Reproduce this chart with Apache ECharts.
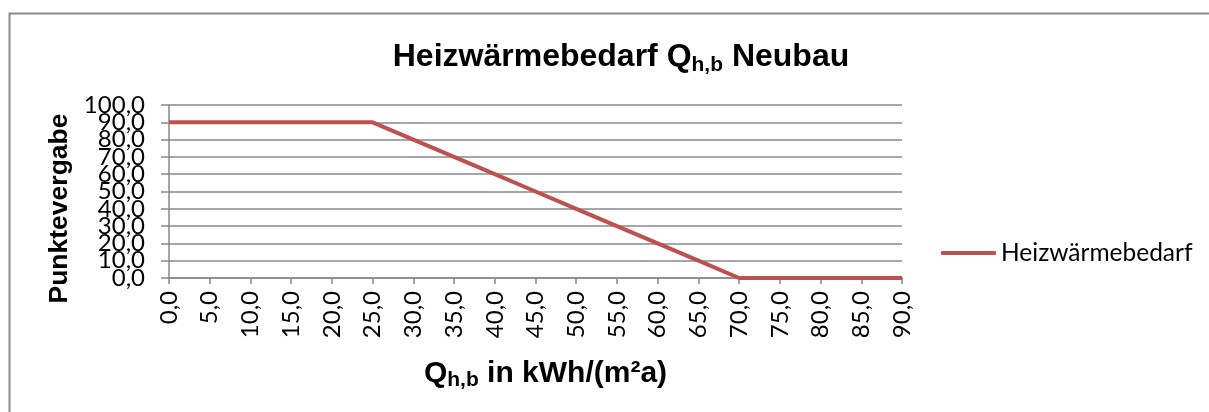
<!DOCTYPE html>
<html>
<head>
<meta charset="utf-8">
<script src="https://cdn.jsdelivr.net/npm/echarts@6/dist/echarts.min.js"></script>
<style>
html,body{margin:0;padding:0;background:#fff;}
#chart{width:1209px;height:412px;}
</style>
</head>
<body>
<div id="chart"></div>
<script>
const categories = [0, 5, 10, 15, 20, 25, 30, 35, 40, 45, 50, 55, 60, 65, 70, 75, 80, 85, 90];
const seriesName = 'Heizwärmebedarf';
const values = [90, 90, 90, 90, 90, 90, 80, 70, 60, 50, 40, 30, 20, 10, 0, 0, 0, 0, 0];
const yTicks = { min: 0, max: 100, interval: 10 };

const fmt = v => Number(v).toFixed(1).replace('.', ',');
const gray = '#898989';
const labelFont = 'Lato, "Open Sans", sans-serif';
const boldFont = '"Liberation Sans", Arial, sans-serif';

// two overlaid y axes: one labels even tens, the other odd tens (avoids auto-hiding of crowded labels)
const yLabelBase = {
  margin: 24, fontFamily: labelFont, fontSize: 24, color: '#000',
  showMinLabel: true, showMaxLabel: true
};

const chart = echarts.init(document.getElementById('chart'));
chart.setOption({
  animation: false,
  backgroundColor: '#fff',
  graphic: [{
    type: 'rect',
    shape: { x: 9.5, y: 13.5, width: 1300, height: 500 },
    style: { fill: 'none', stroke: '#8a8a8a', lineWidth: 2 },
    silent: true
  }],
  title: {
    text: 'Heizwärmebedarf Q{sub|h,b} Neubau',
    left: 616,
    textAlign: 'center',
    top: 33,
    textStyle: {
      fontFamily: boldFont, fontWeight: 'bold', fontSize: 32, color: '#000', lineHeight: 38,
      rich: { sub: { fontFamily: boldFont, fontWeight: 'bold', fontSize: 21, lineHeight: 22, verticalAlign: 'bottom', color: '#000' } }
    }
  },
  legend: {
    data: [{ name: seriesName, icon: 'roundRect' }],
    left: 936, top: 234,
    itemWidth: 55, itemHeight: 4,
    textStyle: { fontFamily: labelFont, fontSize: 24.5, color: '#000', lineHeight: 28 }
  },
  grid: { left: 169, right: 307, top: 105, bottom: 134, containLabel: false },
  xAxis: {
    type: 'category',
    data: categories,
    boundaryGap: false,
    name: '{main|Q}{sub|h,b}{main| in kWh/(m²a)}',
    nameLocation: 'middle',
    nameGap: 79,
    nameTextStyle: {
      padding: [0, 0, 0, 20],
      rich: {
        main: { fontFamily: boldFont, fontWeight: 'bold', fontSize: 30, lineHeight: 34, color: '#000' },
        sub: { fontFamily: boldFont, fontWeight: 'bold', fontSize: 21, lineHeight: 18, verticalAlign: 'bottom', color: '#000' }
      }
    },
    axisLine: { lineStyle: { color: gray, width: 1.5 } },
    axisTick: { show: true, length: 6, lineStyle: { color: gray, width: 1.5 } },
    axisLabel: {
      rotate: 90, margin: 13, interval: 0,
      fontFamily: labelFont, fontSize: 24, color: '#000',
      formatter: v => fmt(v)
    },
    splitLine: { show: false }
  },
  yAxis: [{
    type: 'value',
    min: yTicks.min, max: yTicks.max, interval: yTicks.interval,
    position: 'left',
    name: 'Punktevergabe',
    nameLocation: 'middle',
    nameGap: 94,
    nameTextStyle: { fontFamily: boldFont, fontWeight: 'bold', fontSize: 26.5, color: '#000', padding: [0, 34, 0, 0] },
    axisLine: { show: true, lineStyle: { color: gray, width: 1.5 } },
    axisTick: { show: true, length: 8, lineStyle: { color: gray, width: 1.5 } },
    axisLabel: Object.assign({}, yLabelBase, {
      formatter: v => (Math.round(v / yTicks.interval) % 2 === 0 ? fmt(v) : '')
    }),
    splitLine: { show: true, lineStyle: { color: gray, width: 1.5 } }
  }, {
    type: 'value',
    min: yTicks.min, max: yTicks.max, interval: yTicks.interval,
    position: 'left',
    offset: 0,
    axisLine: { show: false },
    axisTick: { show: false },
    splitLine: { show: false },
    axisLabel: Object.assign({}, yLabelBase, {
      formatter: v => (Math.round(v / yTicks.interval) % 2 === 1 ? fmt(v) : '')
    })
  }],
  series: [{
    name: seriesName,
    type: 'line',
    yAxisIndex: 0,
    data: values,
    symbol: 'none',
    lineStyle: { color: '#C0504D', width: 4 },
    itemStyle: { color: '#C0504D' }
  }]
});
</script>
</body>
</html>
